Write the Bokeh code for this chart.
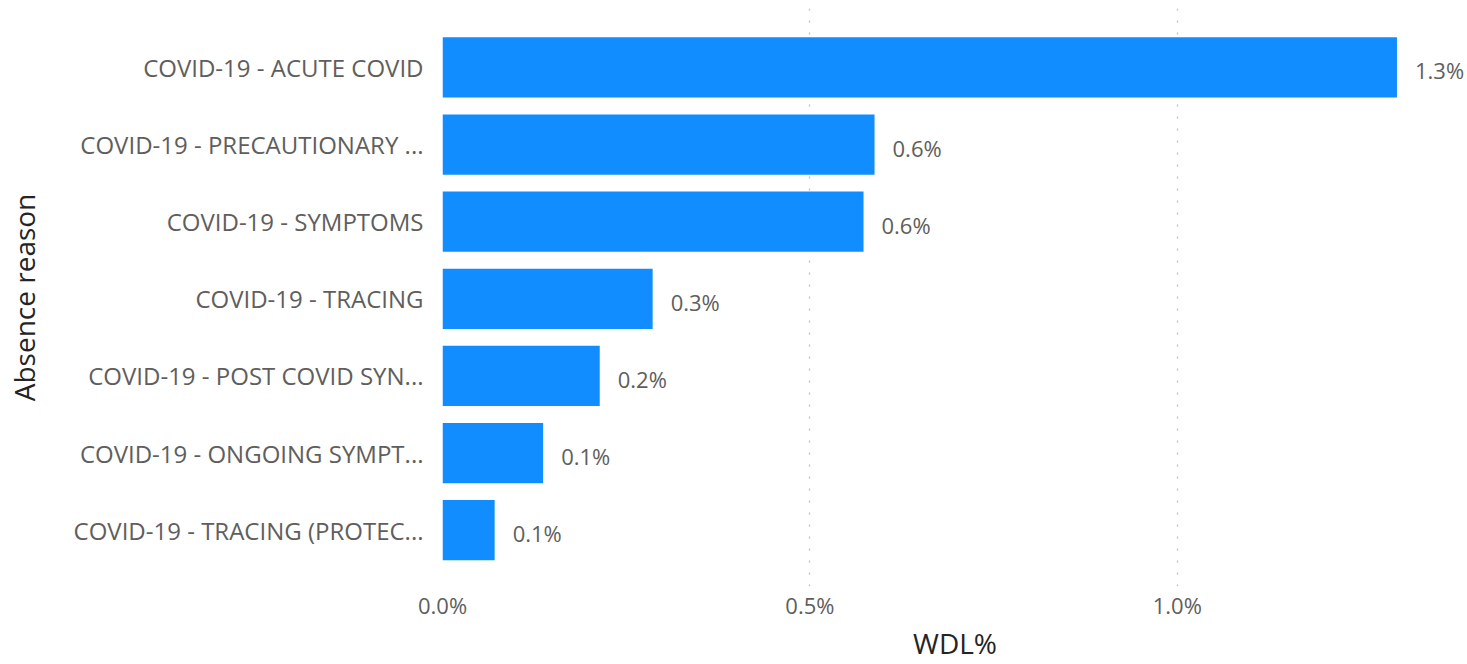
from bokeh.plotting import figure
from bokeh.models import ColumnDataSource, Range1d, FixedTicker, NumeralTickFormatter, LabelSet
from bokeh.core.properties import value
from bokeh.embed import file_html
from bokeh.resources import INLINE

reasons = [
    "COVID-19 - ACUTE COVID",
    "COVID-19 - PRECAUTIONARY ...",
    "COVID-19 - SYMPTOMS",
    "COVID-19 - TRACING",
    "COVID-19 - POST COVID SYN...",
    "COVID-19 - ONGOING SYMPT...",
    "COVID-19 - TRACING (PROTEC...",
]
wdl = [0.01299, 0.00588, 0.00573, 0.00286, 0.00214, 0.00137, 0.00071]
x_ticks = [0.0, 0.005, 0.01]

n = len(reasons)
ypos = [n - 1 - i for i in range(n)]  # first reason at top
labels = [f"{v*100:.1f}%" for v in wdl]
src = ColumnDataSource(dict(y=ypos, reason=reasons, wdl=wdl, label=labels))

p = figure(width=1467, height=664, y_range=Range1d(-0.73, n - 0.5 + 0.264),
           x_range=Range1d(0, 0.01395),
           output_backend="svg", toolbar_location=None,
           min_border_left=442, min_border_right=0, min_border_top=8, min_border_bottom=0)
p.hbar(y="y", right="wdl", height=0.78, source=src, color="#118DFF", line_color=None)

ls = LabelSet(x="wdl", y="y", text="label", source=src, x_offset=18, y_offset=-3,
              text_baseline="middle", text_font=value("Open Sans"), text_font_size=value("22px"),
              text_color="#605E5C")
p.add_layout(ls)

p.outline_line_color = None
p.ygrid.grid_line_color = None
p.xgrid.grid_line_color = "#BDBDBD"
p.xgrid.grid_line_dash = "2 10"
p.xgrid.grid_line_width = 1.3

p.xaxis.ticker = FixedTicker(ticks=x_ticks)
p.xaxis.formatter = NumeralTickFormatter(format="0.0%")
p.yaxis.ticker = FixedTicker(ticks=ypos)
p.yaxis.major_label_overrides = {y: r for y, r in zip(ypos, reasons)}
for ax in (p.xaxis[0], p.yaxis[0]):
    ax.axis_line_color = None
    ax.major_tick_line_color = None
    ax.minor_tick_line_color = None
    ax.major_tick_out = 0
    ax.major_tick_in = 0
    ax.major_label_text_font = "Open Sans"
    ax.major_label_text_color = "#605E5C"
    ax.axis_label_text_font = "Open Sans"
    ax.axis_label_text_color = "#252423"
    ax.axis_label_text_font_style = "normal"

p.xaxis.axis_label = "WDL%"
p.xaxis.major_label_text_font_size = "22px"
p.xaxis.major_label_standoff = 3
p.xaxis.axis_label_text_font_size = "28px"
p.xaxis.axis_label_standoff = 1

p.yaxis.axis_label = "Absence reason"
p.yaxis.major_label_text_font_size = "24px"
p.yaxis.major_label_standoff = 19
p.yaxis.axis_label_text_font_size = "28px"
p.yaxis.axis_label_standoff = 28

open("out.html", "w").write(file_html(p, INLINE))
